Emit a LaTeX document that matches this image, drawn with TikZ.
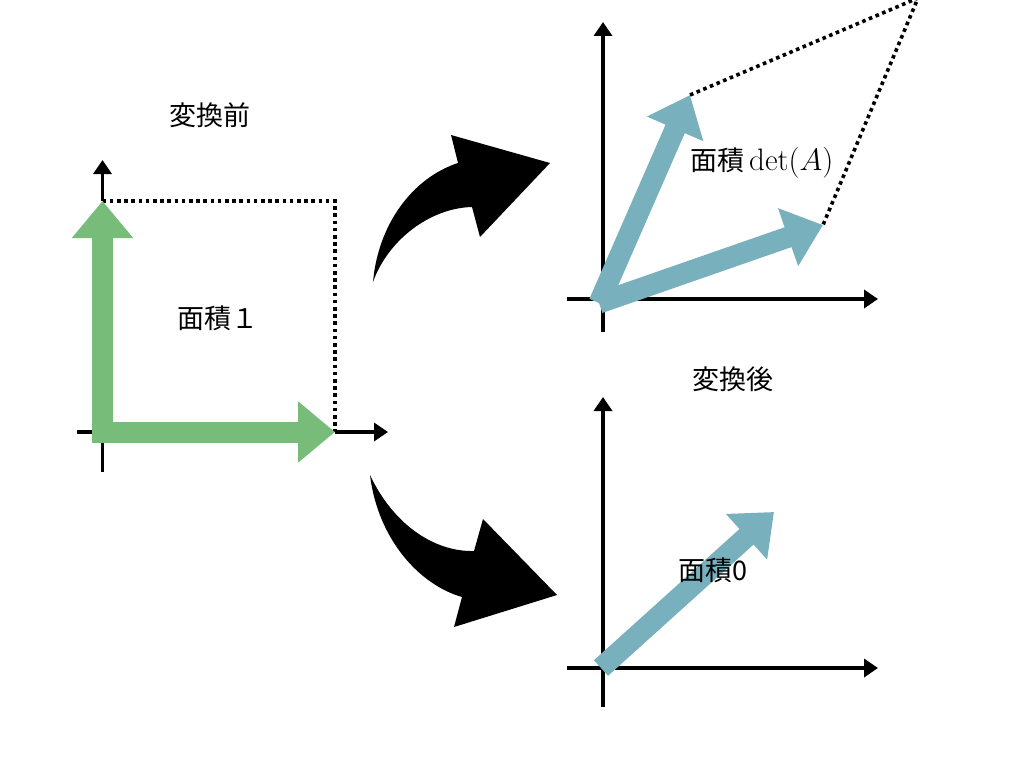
\RequirePackage{fix-cm}
\documentclass[tikz,border=0pt]{standalone}
\usepackage{fontspec}
\newfontfamily\cjk{Noto Sans CJK JP}
\usetikzlibrary{arrows.meta,calc}
\definecolor{vgreen}{HTML}{77BD79}
\definecolor{vblue}{HTML}{79B0BD}
\tikzset{
  axis/.style={line width=3.6pt,-{Triangle[length=14pt,width=18pt]}},
  axisline/.style={line width=3.6pt},
  fat/.style={line width=21pt,-{Triangle[length=37pt,width=59pt]}},
  dots/.style={line width=3.6pt,dash pattern=on 3.6pt off 3.6pt},
  lbl/.style={inner sep=0pt,font=\cjk\fontsize{27}{32}\selectfont},
  curvedarrow/.style={fill=black,draw=none}
}
\begin{document}
\begin{tikzpicture}[x=1pt,y=-1pt]
\useasboundingbox (0,0) rectangle (1024,768);
% ---------- left: before ----------
\coordinate (LxS) at (77,432);
\coordinate (LxO) at (103,432);
\coordinate (LyB) at (102.5,472);
\coordinate (LyO) at (102.5,432);
\coordinate (LxE) at (388,432);
\coordinate (LyE) at (102.5,160);
\coordinate (Lx1) at (335,432);
\coordinate (Ly1) at (102.5,201);
\coordinate (Lc) at (335,201);
\draw[axisline] (LxS) -- (LxO);
\draw[axisline] (LyO) -- (LyB);
\draw[axis] (Lx1) -- (LxE);
\draw[axis] (Ly1) -- (LyE);
\draw[dots] (Ly1) -- (Lc) -- (Lx1);
\coordinate (GvS) at (102.5,443);
\coordinate (GhS) at (92,432);
\draw[fat,vgreen] (GvS) -- (Ly1);
\draw[fat,vgreen] (GhS) -- (Lx1);
\node[lbl] (before) at (210,115) {変換前};
\node[lbl] (area1) at (218,318) {面積１};
% ---------- top right ----------
\coordinate (TxS) at (567,299);
\coordinate (TxE) at (878,299);
\coordinate (TyS) at (603,332);
\coordinate (TyE) at (603,22);
\draw[axis] (TxS) -- (TxE);
\draw[axis] (TyS) -- (TyE);
\coordinate (To) at (599,303);
\coordinate (Ta) at (690,95);
\coordinate (Tb) at (823,225);
\coordinate (Tc) at (918,-2);
\draw[fat,vblue] (To) -- (Ta);
\draw[fat,vblue] (To) -- (Tb);
\draw[dots] (Ta) -- (Tc) -- (Tb);
\node[lbl] (areadet) at (762,163) {面積\,{\fontsize{31}{36}\selectfont$\det(A)$}};
% ---------- bottom right ----------
\node[lbl] (after) at (733,379) {変換後};
\coordinate (BxS) at (567,668);
\coordinate (BxE) at (878,668);
\coordinate (ByS) at (603,707);
\coordinate (ByE) at (603,397);
\draw[axis] (BxS) -- (BxE);
\draw[axis] (ByS) -- (ByE);
\coordinate (Bo) at (601,668);
\coordinate (Ba) at (774,512);
\draw[fat,vblue] (Bo) -- (Ba);
\node[lbl] (area0) at (713,570) {面積0};
% ---------- curved arrows ----------
\fill[curvedarrow] (373,282) .. controls (378,225) and (412,178) .. (458,163)
  -- (451,135) -- (550,163) -- (480,237) -- (472,207)
  .. controls (430,208) and (388,240) .. cycle;
\fill[curvedarrow] (370,475) .. controls (378,540) and (420,585) .. (462,597)
  -- (454,627) -- (557,595) -- (483,519) -- (474,551)
  .. controls (432,552) and (392,522) .. cycle;
\end{tikzpicture}
\end{document}
